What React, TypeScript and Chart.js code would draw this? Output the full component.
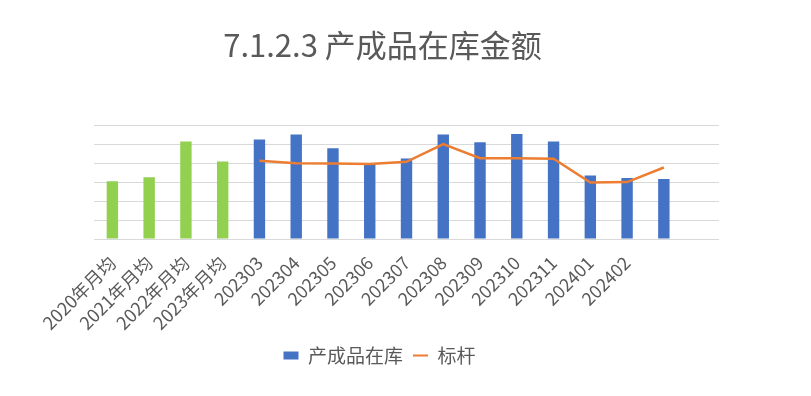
import React, { useEffect, useRef } from "react";
import { Chart, registerables } from "chart.js";

Chart.register(...registerables);

const categories = [
  "2020年月均", "2021年月均", "2022年月均", "2023年月均",
  "202303", "202304", "202305", "202306", "202307", "202308",
  "202309", "202310", "202311", "202401", "202402", "", "",
];
const inventoryValues = [
  3.05, 3.26, 5.14, 4.09,
  5.25, 5.51, 4.79, 3.98, 4.25, 5.51, 5.1, 5.53, 5.14, 3.35, 3.21, 3.16, null,
];
const benchmarkValues = [
  null, null, null, null,
  4.12, 4.0, 3.98, 3.96, 4.07, 5.0, 4.26, 4.26, 4.23, 2.98, 3.0, 3.77, null,
];
const barColors = [
  "#92D050", "#92D050", "#92D050", "#92D050",
  "#4472C4", "#4472C4", "#4472C4", "#4472C4", "#4472C4", "#4472C4",
  "#4472C4", "#4472C4", "#4472C4", "#4472C4", "#4472C4", "#4472C4", "#4472C4",
];
const yMin = 0;
const yMax = 6;

const FONT = "'Noto Sans CJK SC', 'Noto Sans', sans-serif";
const TEXT = "#595959";

const boxShift = {
  id: "boxShift",
  afterLayout(chart: any) {
    const lg = chart.legend;
    if (lg) {
      lg.left -= 27;
      lg.right -= 27;
    }
    const tb = chart.titleBlock;
    if (tb) {
      tb.left -= 24;
      tb.right -= 24;
    }
  },
};

export default function App() {
  const ref = useRef<HTMLCanvasElement | null>(null);

  useEffect(() => {
    if (!ref.current) return;
    const chart = new Chart(ref.current, {
      type: "bar",
      data: {
        labels: categories,
        datasets: [
          {
            type: "line",
            label: "标杆",
            data: benchmarkValues,
            borderColor: "#ED7D31",
            backgroundColor: "#ED7D31",
            borderWidth: 2.5,
            pointRadius: 0,
            tension: 0,
            spanGaps: false,
            order: 0,
          } as any,
          {
            type: "bar",
            label: "产成品在库",
            data: inventoryValues,
            backgroundColor: barColors,
            borderWidth: 0,
            barPercentage: 0.31,
            categoryPercentage: 1,
            order: 1,
          },
        ],
      },
      plugins: [boxShift],
      options: {
        responsive: false,
        animation: false,
        layout: { padding: { left: 94, right: 92, top: 0, bottom: 21 } },
        plugins: {
          title: {
            display: true,
            text: "7.1.2.3 产成品在库金额",
            color: TEXT,
            font: { family: FONT, size: 31, weight: "normal" },
            padding: { top: 27, bottom: 61 },
          },
          legend: {
            position: "bottom",
            labels: {
              color: TEXT,
              font: { family: FONT, size: 19 },
              usePointStyle: true,
              pointStyleWidth: 15,
              boxHeight: 8,
              padding: 10,
              generateLabels: () => [
                {
                  text: "产成品在库",
                  fillStyle: "#4472C4",
                  strokeStyle: "#4472C4",
                  lineWidth: 0,
                  pointStyle: "rect",
                  fontColor: TEXT,
                  datasetIndex: 1,
                } as any,
                {
                  text: "标杆",
                  fillStyle: "#ED7D31",
                  strokeStyle: "#ED7D31",
                  lineWidth: 2,
                  pointStyle: "line",
                  fontColor: TEXT,
                  datasetIndex: 0,
                } as any,
              ],
            },
          },
          tooltip: { enabled: false },
        },
        scales: {
          x: {
            grid: { display: false, drawTicks: false },
            border: { display: false },
            ticks: {
              color: TEXT,
              font: { family: FONT, size: 18 },
              maxRotation: 45,
              minRotation: 45,
              autoSkip: false,
              padding: 13,
            },
            afterFit: (scale: any) => {
              scale.height = 97;
            },
          },
          y: {
            min: yMin,
            max: yMax,
            ticks: { display: false, stepSize: 1 },
            grid: { color: "#D9D9D9", lineWidth: 1, drawTicks: false },
            border: { display: false },
            afterFit: (scale: any) => {
              scale.width = 0;
            },
          },
        },
      },
    });
    return () => chart.destroy();
  }, []);

  return (
    <div style={{ position: "absolute", left: 0, top: 0, width: 811, height: 396, background: "#fff" }}>
      <canvas ref={ref} width={811} height={396} />
    </div>
  );
}
